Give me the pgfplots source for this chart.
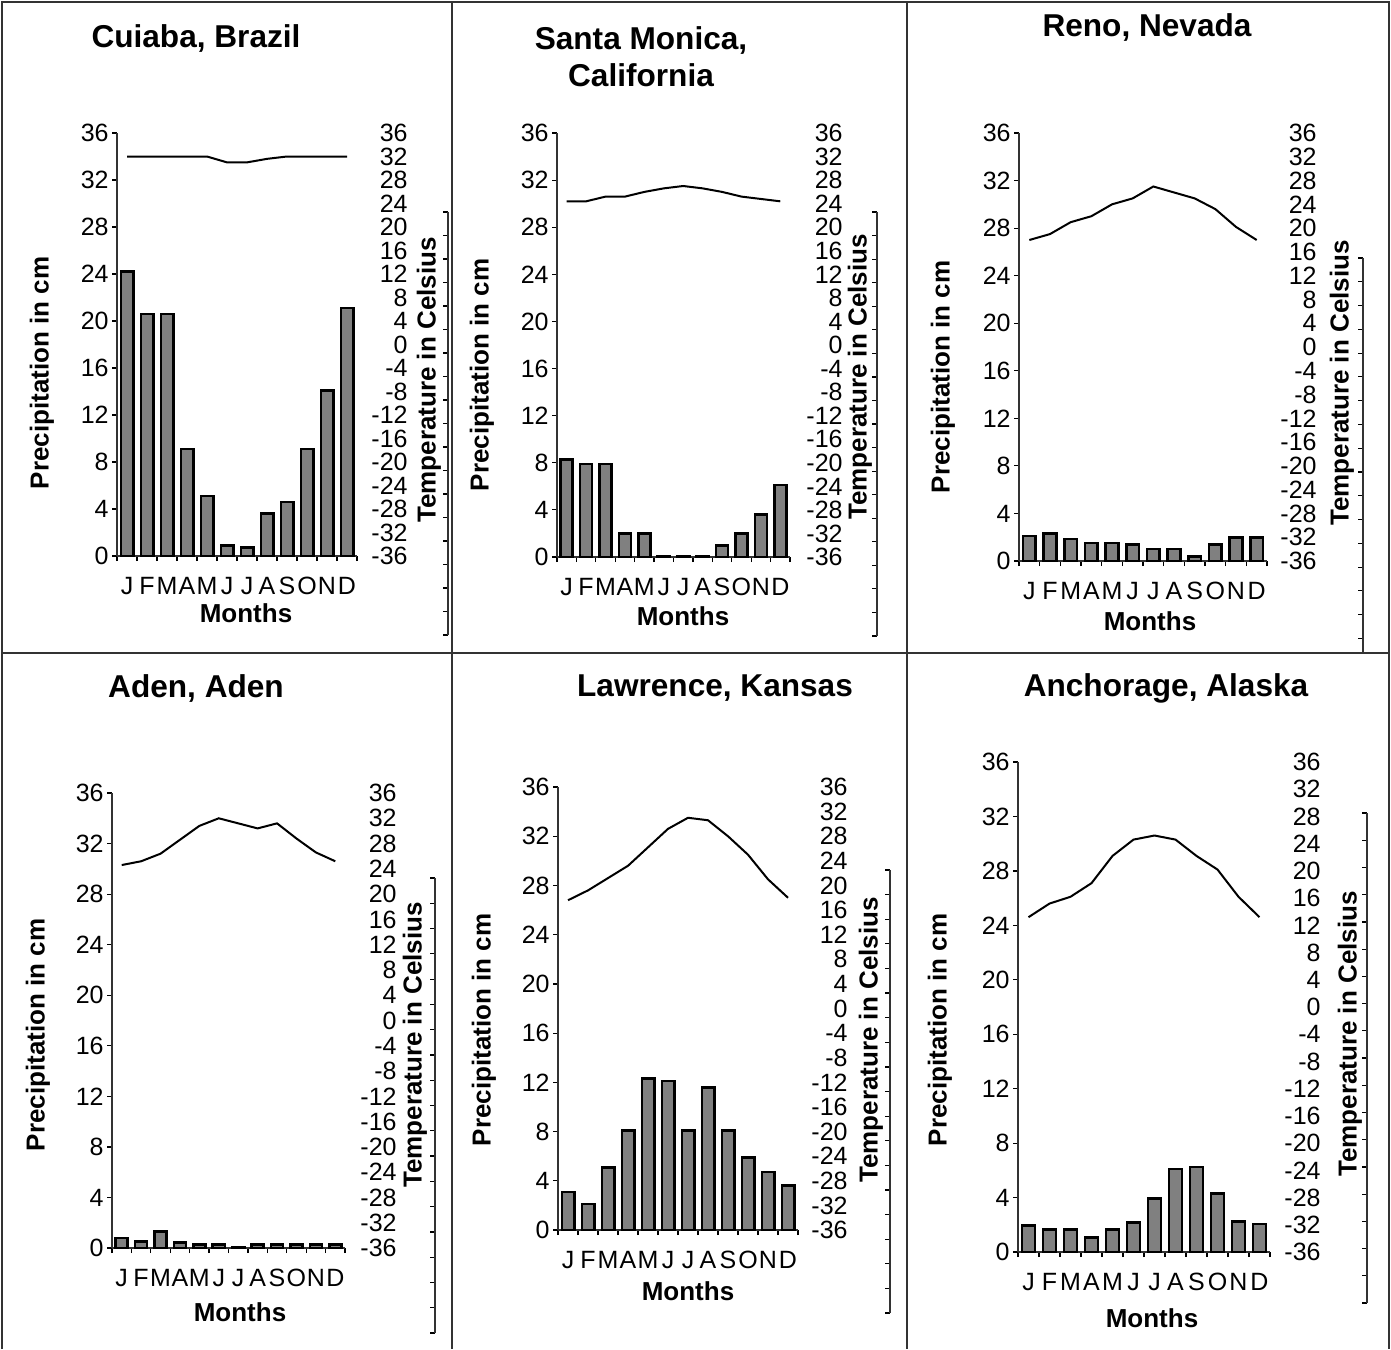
\documentclass[border=0pt]{standalone}
\usepackage{pgfplots}
\usepackage{pgfplotstable}
\pgfplotsset{compat=1.18}
\usepackage{fontspec}
\setmainfont{Liberation Sans}

\newcommand\tickfont{\fontsize{12.5}{14}\selectfont}
\newcommand\titlefont{\fontsize{15.8}{18.5}\selectfont\bfseries}
\newcommand\labfont{\fontsize{13}{15}\selectfont\bfseries}

\pgfplotstableread{
m p t
1 24.2 34.0
2 20.6 34.0
3 20.6 34.0
4 9.1 34.0
5 5.1 34.0
6 0.9 33.5
7 0.7 33.5
8 3.6 33.8
9 4.6 34.0
10 9.1 34.0
11 14.1 34.0
12 21.1 34.0
}\cuiaba
\pgfplotstableread{
m p t
1 8.3 30.2
2 7.9 30.2
3 7.9 30.6
4 2.0 30.6
5 2.0 31.0
6 0.05 31.3
7 0.05 31.5
8 0.05 31.3
9 1.0 31.0
10 2.0 30.6
11 3.6 30.4
12 6.1 30.2
}\santamonica
\pgfplotstableread{
m p t
1 2.1 27.0
2 2.3 27.5
3 1.85 28.5
4 1.5 29.0
5 1.5 30.0
6 1.4 30.5
7 1.0 31.5
8 1.0 31.0
9 0.4 30.5
10 1.4 29.6
11 2.0 28.1
12 2.0 27.0
}\reno
\pgfplotstableread{
m p t
1 0.8 30.3
2 0.5 30.6
3 1.3 31.2
4 0.45 32.3
5 0.3 33.4
6 0.3 34.0
7 0.05 33.6
8 0.3 33.2
9 0.3 33.6
10 0.3 32.4
11 0.3 31.3
12 0.3 30.6
}\aden
\pgfplotstableread{
m p t
1 3.1 26.8
2 2.1 27.6
3 5.1 28.6
4 8.1 29.6
5 12.3 31.1
6 12.1 32.6
7 8.1 33.5
8 11.6 33.3
9 8.1 32.0
10 5.9 30.5
11 4.7 28.5
12 3.6 27.0
}\lawrence
\pgfplotstableread{
m p t
1 1.95 24.6
2 1.65 25.6
3 1.65 26.1
4 1.05 27.1
5 1.65 29.1
6 2.15 30.3
7 3.95 30.6
8 6.1 30.3
9 6.25 29.1
10 4.3 28.1
11 2.25 26.1
12 2.05 24.6
}\anchorage

\pgfplotsset{
  precip/.style={
    scale only axis, anchor=south west,
    xmin=0.5, xmax=12.5, ymin=0, ymax=36,
    axis x line*=bottom, axis y line*=left,
    axis line style={line width=0.6pt, black!80},
    ytick={0,4,...,36},
    xtick={1,...,12},
    xticklabels={J,F,M,A,M,J,J,A,S,O,N,D},
    minor xtick={0.5,1.5,...,12.5},
    tick align=outside,
    major tick length=2.5pt, minor tick length=2.5pt,
    tick style={black, line width=0.6pt},
    major x tick style={draw=none},
    /pgf/number format/assume math mode=true,
    ticklabel style={font=\tickfont},
    yticklabel style={inner sep=1.5pt},
    xticklabel style={anchor=base, inner sep=0pt, yshift=-16.5pt},
    clip=false,
  },
  bars/.style={ybar, bar width=0.62, bar shift=0pt, fill=gray, draw=black, line width=1.3pt},
  temp/.style={black, line width=1pt, sharp plot, mark=none},
  rightlab/.style={
    scale only axis, anchor=south west,
    ymin=-36, ymax=36, xmin=0, xmax=1,
    hide x axis, axis y line*=right, y axis line style={draw=none},
    ytick={-36,-32,...,36},
    yticklabels={-36,-32,-28,-24,-20,-16,-12,-8,-4,0,4,8,12,16,20,24,28,32,36},
    major tick length=0pt,
    yticklabel style={anchor=east, inner sep=0pt, font=\tickfont},
  },
  weird/.style={
    scale only axis, anchor=south east, width=2pt,
    xmin=0, xmax=1, hide x axis, axis y line*=right,
    ymin=-36, ymax=36, ytick={-36,-32,...,36}, yticklabels={},
    tick align=inside, major tick length=2.7pt,
    tick style={black, line width=0.6pt},
    y axis line style={black!80, line width=0.6pt},
  },
}

\begin{document}
\begin{tikzpicture}
\useasboundingbox (0pt,0pt) rectangle (695.5pt,-674.5pt);
% panel frame
\draw[line width=0.8pt, black!80] (1pt,-674.5pt) -- (1pt,-1pt) -- (694.5pt,-1pt) -- (694.5pt,-674.5pt);
\draw[line width=0.8pt, black!80] (226pt,-1pt) -- (226pt,-674.5pt);
\draw[line width=0.8pt, black!80] (453.5pt,-1pt) -- (453.5pt,-674.5pt);
\draw[line width=0.8pt, black!80] (1pt,-326.5pt) -- (694.5pt,-326.5pt);

% ---------------- Cuiaba
\begin{axis}[precip, at={(58.5pt,-278pt)}, width=120pt, height=211.5pt]
\addplot[bars] table[x=m,y=p]{\cuiaba};
\addplot[temp] table[x=m,y=t]{\cuiaba};
\end{axis}
\begin{axis}[rightlab, at={(58.5pt,-278pt)}, width=145.5pt, height=211.5pt]
\end{axis}
\begin{axis}[weird, at={(224pt,-317.5pt)}, height=211.5pt]
\end{axis}
\node[font=\titlefont] at (98pt,-19pt) {Cuiaba, Brazil};
\node[font=\labfont, rotate=90] at (21pt,-186.5pt) {Precipitation in cm};
\node[font=\labfont, rotate=90] at (214.5pt,-190pt) {Temperature in Celsius};
\node[font=\labfont] at (123pt,-306.5pt) {Months};

% ---------------- Santa Monica
\begin{axis}[precip, at={(278.5pt,-278.5pt)}, width=116.5pt, height=212pt]
\addplot[bars] table[x=m,y=p]{\santamonica};
\addplot[temp] table[x=m,y=t]{\santamonica};
\end{axis}
\begin{axis}[rightlab, at={(278.5pt,-278.5pt)}, width=143pt, height=212pt]
\end{axis}
\begin{axis}[weird, at={(438.5pt,-318pt)}, height=212pt]
\end{axis}
\node[font=\titlefont, align=center] at (320.5pt,-28.25pt) {Santa Monica,\\California};
\node[font=\labfont, rotate=90] at (241pt,-187.5pt) {Precipitation in cm};
\node[font=\labfont, rotate=90] at (430pt,-188.5pt) {Temperature in Celsius};
\node[font=\labfont] at (341.5pt,-308pt) {Months};

% ---------------- Reno
\begin{axis}[precip, at={(509.5pt,-280.5pt)}, width=124pt, height=214pt]
\addplot[bars] table[x=m,y=p]{\reno};
\addplot[temp] table[x=m,y=t]{\reno};
\end{axis}
\begin{axis}[rightlab, at={(509.5pt,-280.5pt)}, width=149pt, height=214pt]
\end{axis}
\begin{axis}[weird, at={(681.5pt,-326pt)}, height=197pt, ymin=-30.28]
\end{axis}
\node[font=\titlefont] at (573.5pt,-13.5pt) {Reno, Nevada};
\node[font=\labfont, rotate=90] at (471.5pt,-188.5pt) {Precipitation in cm};
\node[font=\labfont, rotate=90] at (671pt,-191.5pt) {Temperature in Celsius};
\node[font=\labfont] at (575pt,-310.5pt) {Months};

% ---------------- Aden
\begin{axis}[precip, at={(56pt,-624pt)}, width=116.5pt, height=227.5pt]
\addplot[bars] table[x=m,y=p]{\aden};
\addplot[temp] table[x=m,y=t]{\aden};
\end{axis}
\begin{axis}[rightlab, at={(56pt,-624pt)}, width=142.5pt, height=227.5pt]
\end{axis}
\begin{axis}[weird, at={(217.5pt,-666.5pt)}, height=227.5pt]
\end{axis}
\node[font=\titlefont] at (98pt,-344pt) {Aden, Aden};
\node[font=\labfont, rotate=90] at (19pt,-517.5pt) {Precipitation in cm};
\node[font=\labfont, rotate=90] at (207.5pt,-522.5pt) {Temperature in Celsius};
\node[font=\labfont] at (120pt,-656pt) {Months};

% ---------------- Lawrence
\begin{axis}[precip, at={(279pt,-615pt)}, width=120pt, height=221.5pt]
\addplot[bars] table[x=m,y=p]{\lawrence};
\addplot[temp] table[x=m,y=t]{\lawrence};
\end{axis}
\begin{axis}[rightlab, at={(279pt,-615pt)}, width=145pt, height=221.5pt]
\end{axis}
\begin{axis}[weird, at={(445pt,-656.5pt)}, height=221.5pt]
\end{axis}
\node[font=\titlefont] at (357.5pt,-344pt) {Lawrence, Kansas};
\node[font=\labfont, rotate=90] at (242pt,-515pt) {Precipitation in cm};
\node[font=\labfont, rotate=90] at (435.5pt,-520pt) {Temperature in Celsius};
\node[font=\labfont] at (344pt,-645.5pt) {Months};

% ---------------- Anchorage
\begin{axis}[precip, at={(509pt,-626pt)}, width=126pt, height=245pt]
\addplot[bars] table[x=m,y=p]{\anchorage};
\addplot[temp] table[x=m,y=t]{\anchorage};
\end{axis}
\begin{axis}[rightlab, at={(509pt,-626pt)}, width=151.5pt, height=245pt]
\end{axis}
\begin{axis}[weird, at={(683.5pt,-651.5pt)}, height=245pt]
\end{axis}
\node[font=\titlefont] at (583pt,-344pt) {Anchorage, Alaska};
\node[font=\labfont, rotate=90] at (470pt,-515pt) {Precipitation in cm};
\node[font=\labfont, rotate=90] at (675pt,-517pt) {Temperature in Celsius};
\node[font=\labfont] at (576pt,-659pt) {Months};
\end{tikzpicture}
\end{document}
